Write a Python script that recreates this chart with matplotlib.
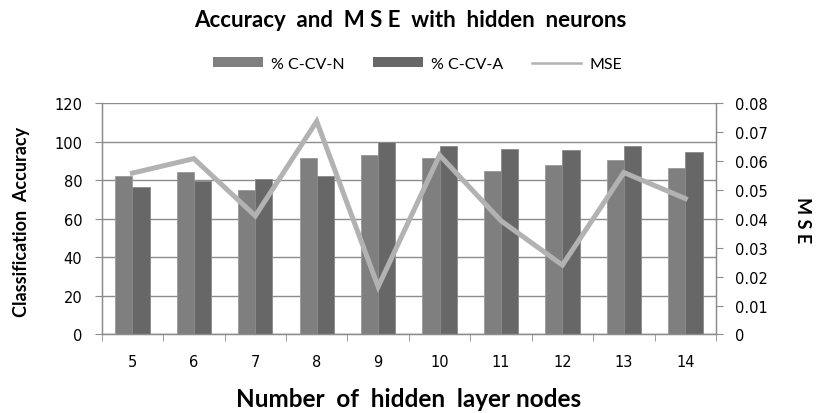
import numpy as np
import matplotlib.pyplot as plt
from matplotlib.patches import Patch
from matplotlib.lines import Line2D

# datos
nodes = [5, 6, 7, 8, 9, 10, 11, 12, 13, 14]
acc_n = [82.3, 84.1, 75.1, 91.3, 93.0, 91.3, 84.9, 88.0, 90.4, 86.5]
acc_a = [76.6, 79.7, 80.6, 82.3, 100.0, 97.9, 96.3, 95.5, 97.9, 94.6]
mse = [0.0558, 0.0608, 0.041, 0.0737, 0.0165, 0.062, 0.0393, 0.024, 0.056, 0.047]

c_n = '#7f7f7f'
c_a = '#676767'
c_mse = '#b2b2b2'
c_grid = '#8c8c8c'
txt_font = ['Lato', 'DejaVu Sans']

fig = plt.figure(figsize=(8.25, 4.14), dpi=100)
ax = fig.add_axes([0.1233, 0.1897, 0.7446, 0.5588])

x = np.arange(len(nodes))
w = 0.28
ax.bar(x - w / 2, acc_n, w, color=c_n, edgecolor='#9a9a9a', linewidth=0.6, zorder=2)
ax.bar(x + w / 2, acc_a, w, color=c_a, edgecolor='#8a8a8a', linewidth=0.6, zorder=2)

ax.set_xlim(-0.5, len(nodes) - 0.5)
ax.set_ylim(0, 120)
ax.set_yticks(range(0, 121, 20))
ax.yaxis.grid(True, color=c_grid, linewidth=1.0, zorder=0)
ax.set_axisbelow(True)

ax.set_xticks(x)
ax.set_xticklabels([str(n) for n in nodes])
ax.set_xticks(np.arange(-0.5, len(nodes)), minor=True)
ax.tick_params(axis='x', which='major', length=0, pad=14, labelsize=10.5)
ax.tick_params(axis='x', which='minor', length=5, color=c_grid, direction='out')
ax.tick_params(axis='y', length=5, color=c_grid, labelsize=10.5, pad=9)

ax.spines['top'].set_visible(False)
for s in ['left', 'bottom', 'right']:
    ax.spines[s].set_color(c_grid)
    ax.spines[s].set_linewidth(1.0)

ax2 = ax.twinx()
ax2.plot(x, mse, color=c_mse, linewidth=3.6, solid_joinstyle='miter', zorder=3)
ax2.set_ylim(0, 0.08)
ax2.set_yticks(np.arange(0, 0.081, 0.01))
ax2.set_yticklabels(['0'] + ['%.2f' % v for v in np.arange(0.01, 0.081, 0.01)])
ax2.tick_params(axis='y', length=5, color=c_grid, labelsize=10.5, pad=9)
ax2.spines['top'].set_visible(False)
for s in ['left', 'bottom', 'right']:
    ax2.spines[s].set_color(c_grid)

ax.set_ylabel('Classification  Accuracy', fontfamily=txt_font, fontweight='bold', fontsize=13, va='center')
ax.yaxis.set_label_coords(-0.13, 0.49)
ax2.set_ylabel('M S E', fontfamily=txt_font, fontweight='bold', fontsize=13, rotation=270, va='center')
ax2.yaxis.set_label_coords(1.14, 0.5)
ax.set_xlabel('Number  of  hidden  layer nodes', fontfamily=txt_font, fontweight='bold', fontsize=17.5, va='center')
ax.xaxis.set_label_coords(0.5, -0.275)

fig.text(0.497, 0.951, 'Accuracy  and  M S E  with  hidden  neurons', ha='center', va='center',
         fontfamily=txt_font, fontweight='bold', fontsize=16)

handles = [Patch(facecolor=c_n, edgecolor='none'),
           Patch(facecolor=c_a, edgecolor='none'),
           Line2D([0], [0], color=c_mse, linewidth=1.8)]
fig.legend(handles, ['% C-CV-N', '% C-CV-A', 'MSE'], loc='center', bbox_to_anchor=(0.506, 0.843),
           ncol=3, frameon=False, prop={'family': txt_font, 'size': 11.5},
           handlelength=3.1, handleheight=0.6, columnspacing=1.8, handletextpad=0.5)

fig.savefig('out.png', dpi=100)
